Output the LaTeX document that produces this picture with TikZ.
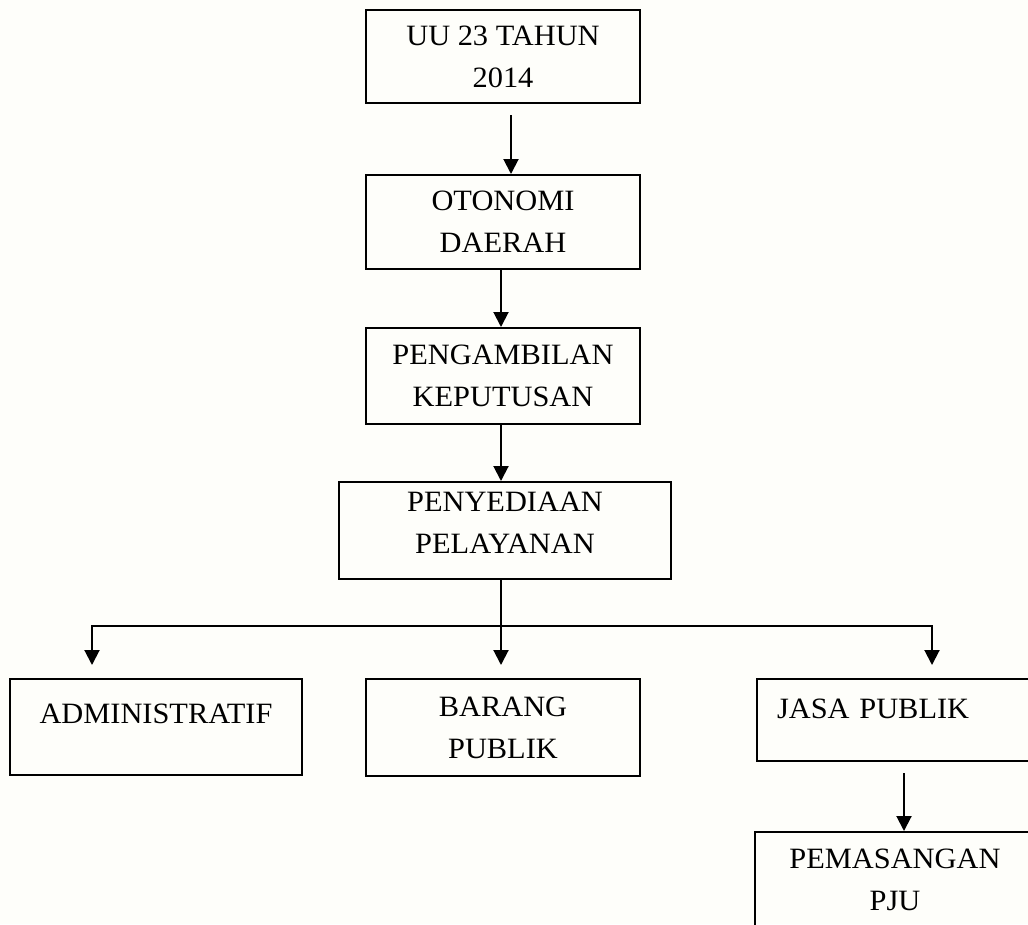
\documentclass[tikz,border=0pt]{standalone}
\usepackage{fontspec}
\setmainfont{Liberation Serif}[FakeStretch=1.03]
\usepackage{xcolor}
\usetikzlibrary{arrows.meta, positioning}
\definecolor{paper}{RGB}{254,254,250}

\begin{document}
\begin{tikzpicture}[
    x=1pt, y=-1pt,
    box/.style={rectangle, draw=black, line width=2pt, inner sep=0pt, align=center, font=\fontsize{29.5}{42}\selectfont},
    arrow/.style={-{Triangle[width=15pt, length=15pt]}, line width=2pt}
]
    % Page
    \fill[paper] (0,0) rectangle (1028,924);
    \clip (0,0) rectangle (1028,924);

    % Legal basis
    \node[box, minimum width=274pt, minimum height=93pt] (uu) at (503, 56.5) {UU 23 TAHUN\\2014};

    % Autonomy
    \node[box, minimum width=274pt, minimum height=94pt] (otonomi) at (503, 222) {OTONOMI\\DAERAH};

    % Decision making
    \node[box, minimum width=274pt, minimum height=96pt] (keputusan) at (503, 376) {PENGAMBILAN\\KEPUTUSAN};

    % Service provision
    \node[box, minimum width=332pt, minimum height=97pt, text depth=16pt] (pelayanan) at (505, 530.5) {PENYEDIAAN\\PELAYANAN};

    % Service types
    \node[box, minimum width=292pt, minimum height=96pt, text depth=27pt] (admin) at (156, 727) {ADMINISTRATIF};
    \node[box, minimum width=274pt, minimum height=97pt] (barang) at (503, 727.5) {BARANG\\PUBLIK};
    \node[box, minimum width=283pt, minimum height=82pt, text depth=23pt, text width=243pt, align=left] (jasa) at (898.5, 720) {JASA PUBLIK};

    % Street lighting
    \node[box, minimum width=280pt, minimum height=96pt] (pju) at (895, 880) {PEMASANGAN\\PJU};

    % Main path
    \draw[arrow] ([xshift=8pt, yshift=-11pt]uu.south) -- ([xshift=8pt]otonomi.north);
    \draw[arrow] ([xshift=-2pt]otonomi.south) -- ([xshift=-2pt]keputusan.north);
    \draw[arrow] ([xshift=-2pt]keputusan.south) -- ([xshift=-4pt]pelayanan.north);

    % Branches
    \coordinate (split) at (501, 626);
    \draw[line width=2pt] ([xshift=-4pt]pelayanan.south) -- (split);
    \draw[arrow] (split) -| ([xshift=-64pt, yshift=13pt]admin.north);
    \draw[arrow] (split) -- ([xshift=-2pt, yshift=13pt]barang.north);
    \draw[arrow] (split) -| ([xshift=33.5pt, yshift=13pt]jasa.north);
    \draw[arrow] ([xshift=5.5pt, yshift=-11pt]jasa.south) -- ([xshift=9pt]pju.north);
\end{tikzpicture}
\end{document}
